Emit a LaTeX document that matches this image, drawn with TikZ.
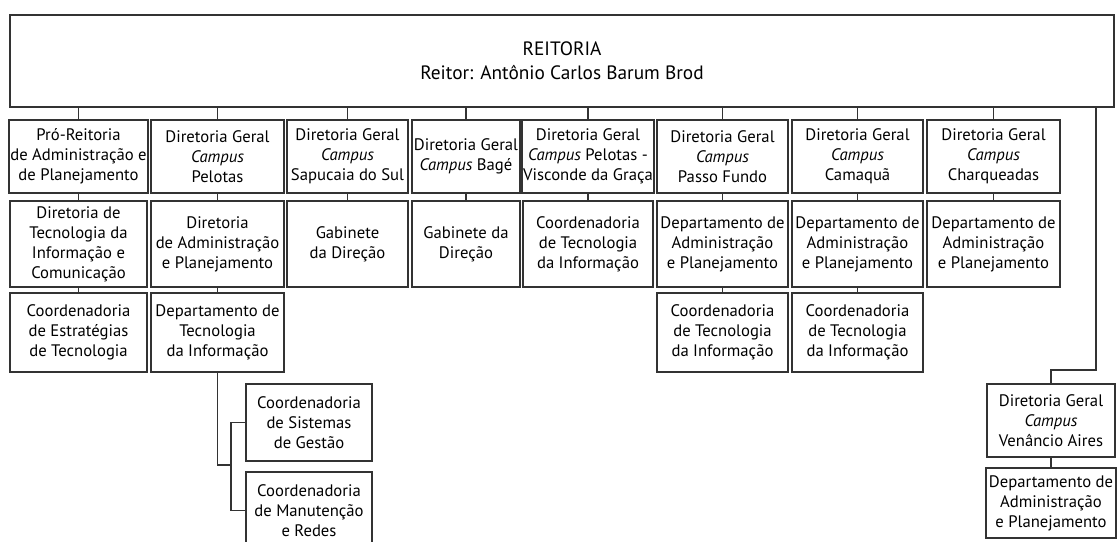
\documentclass[tikz,border=0pt]{standalone}
\usepackage{fontspec}
\setmainfont{PT Sans}

\tikzset{
  box/.style={draw=black!80, line width=1.1pt, fill=white, align=center, inner sep=1pt,
    font=\fontsize{12.5}{15}\selectfont},
  boxw/.style={minimum width=#1*0.75pt},
  boxh/.style={minimum height=#1*0.75pt},
  link/.style={draw=black!80, line width=1.1pt}
}

\begin{document}
\begin{tikzpicture}[x=0.75pt, y=-0.75pt]
                \fill[white] (0,0) rectangle (1117,542);
                \useasboundingbox (0,0) rectangle (1117,542);

                % Nodes
                \node[box, boxw=1104, boxh=92, font=\fontsize{14.5}{18}\selectfont] (reitoria) at (562,61) {REITORIA\\Reitor: Antônio Carlos Barum Brod};

                % first level
                \node[box, boxw=137, boxh=73] (proreitoria) at (78.5,156.5) {Pró-Reitoria\\de Administração e\\de Planejamento};
                \node[box, boxw=133, boxh=73] (dgpelotas) at (217.5,156.5) {Diretoria Geral\\\textit{Campus}\\Pelotas};
                \node[box, boxw=121, boxh=73] (dgsapucaia) at (347.5,156.5) {Diretoria Geral\\\textit{Campus}\\Sapucaia do Sul};
                \node[box, boxw=108, boxh=73] (dgbage) at (466,156.5) {Diretoria Geral\\\textit{Campus} Bagé};
                \node[box, boxw=130, boxh=73] (dgvisconde) at (588,156.5) {Diretoria Geral\\\textit{Campus} Pelotas -\\Visconde da Graça};
                \node[box, boxw=131, boxh=73] (dgpassofundo) at (722.5,156.5) {Diretoria Geral\\\textit{Campus}\\Passo Fundo};
                \node[box, boxw=131, boxh=73] (dgcamaqua) at (857.5,156.5) {Diretoria Geral\\\textit{Campus}\\Camaquã};
                \node[box, boxw=133, boxh=73] (dgcharqueadas) at (993.5,156.5) {Diretoria Geral\\\textit{Campus}\\Charqueadas};
                \node[box, boxw=128, boxh=73] (dgvenancio) at (1051,420.5) {Diretoria Geral\\\textit{Campus}\\Venâncio Aires};

                % second level
                \node[box, boxw=137, boxh=86] (dtic) at (78.5,244) {Diretoria de\\Tecnologia da\\Informação e\\Comunicação};
                \node[box, boxw=133, boxh=86] (dap) at (217.5,244) {Diretoria\\de Administração\\e Planejamento};
                \node[box, boxw=121, boxh=86] (gabsapucaia) at (347.5,244) {Gabinete\\da Direção};
                \node[box, boxw=108, boxh=86] (gabbage) at (466,244) {Gabinete da\\Direção};
                \node[box, boxw=130, boxh=86] (ctivisconde) at (588,244) {Coordenadoria\\de Tecnologia\\da Informação};
                \node[box, boxw=131, boxh=86] (dappassofundo) at (722.5,244) {Departamento de\\Administração\\e Planejamento};
                \node[box, boxw=131, boxh=86] (dapcamaqua) at (857.5,244) {Departamento de\\Administração\\e Planejamento};
                \node[box, boxw=133, boxh=86] (dapcharqueadas) at (993.5,244) {Departamento de\\Administração\\e Planejamento};
                \node[box, boxw=130, boxh=70] (dapvenancio) at (1051,503) {Departamento de\\Administração\\e Planejamento};

                % third level
                \node[box, boxw=137, boxh=79] (cet) at (78.5,332.5) {Coordenadoria\\de Estratégias\\de Tecnologia};
                \node[box, boxw=133, boxh=79] (dti) at (217.5,332.5) {Departamento de\\Tecnologia\\da Informação};
                \node[box, boxw=131, boxh=79] (ctipassofundo) at (722.5,332.5) {Coordenadoria\\de Tecnologia\\da Informação};
                \node[box, boxw=131, boxh=79] (cticamaqua) at (857.5,332.5) {Coordenadoria\\de Tecnologia\\da Informação};

                % under DTI
                \node[box, boxw=126, boxh=77] (csg) at (309,422.5) {Coordenadoria\\de Sistemas\\de Gestão};
                \node[box, boxw=126, boxh=77] (cmr) at (309,510.5) {Coordenadoria\\de Manutenção\\e Redes};

                \coordinate (fork) at (231,465);
                \coordinate (vturn) at (1096,370);

                % Edges
                \foreach \n in {proreitoria,dgpelotas,dgsapucaia,dgbage,dgvisconde,dgpassofundo,dgcamaqua,dgcharqueadas}
                  \draw[link] (reitoria.south -| \n.north) -- (\n.north);
                \draw[link] (reitoria.south -| vturn) -- (vturn) -| (dgvenancio.north);

                \draw[link] (proreitoria.south) -- (dtic.north);
                \draw[link] (dtic.south) -- (cet.north);
                \draw[link] (dgpelotas.south) -- (dap.north);
                \draw[link] (dap.south) -- (dti.north);
                \draw[link] (dgsapucaia.south) -- (gabsapucaia.north);
                \draw[link] (dgbage.south) -- (gabbage.north);
                \draw[link] (dgvisconde.south) -- (ctivisconde.north);
                \draw[link] (dgpassofundo.south) -- (dappassofundo.north);
                \draw[link] (dappassofundo.south) -- (ctipassofundo.north);
                \draw[link] (dgcamaqua.south) -- (dapcamaqua.north);
                \draw[link] (dapcamaqua.south) -- (cticamaqua.north);
                \draw[link] (dgcharqueadas.south) -- (dapcharqueadas.north);
                \draw[link] (dgvenancio.south) -- (dapvenancio.north);

                \draw[link] (dti.south) |- (fork);
                \draw[link] (fork) |- (csg.west);
                \draw[link] (fork) |- (cmr.west);
            \end{tikzpicture}
\end{document}
